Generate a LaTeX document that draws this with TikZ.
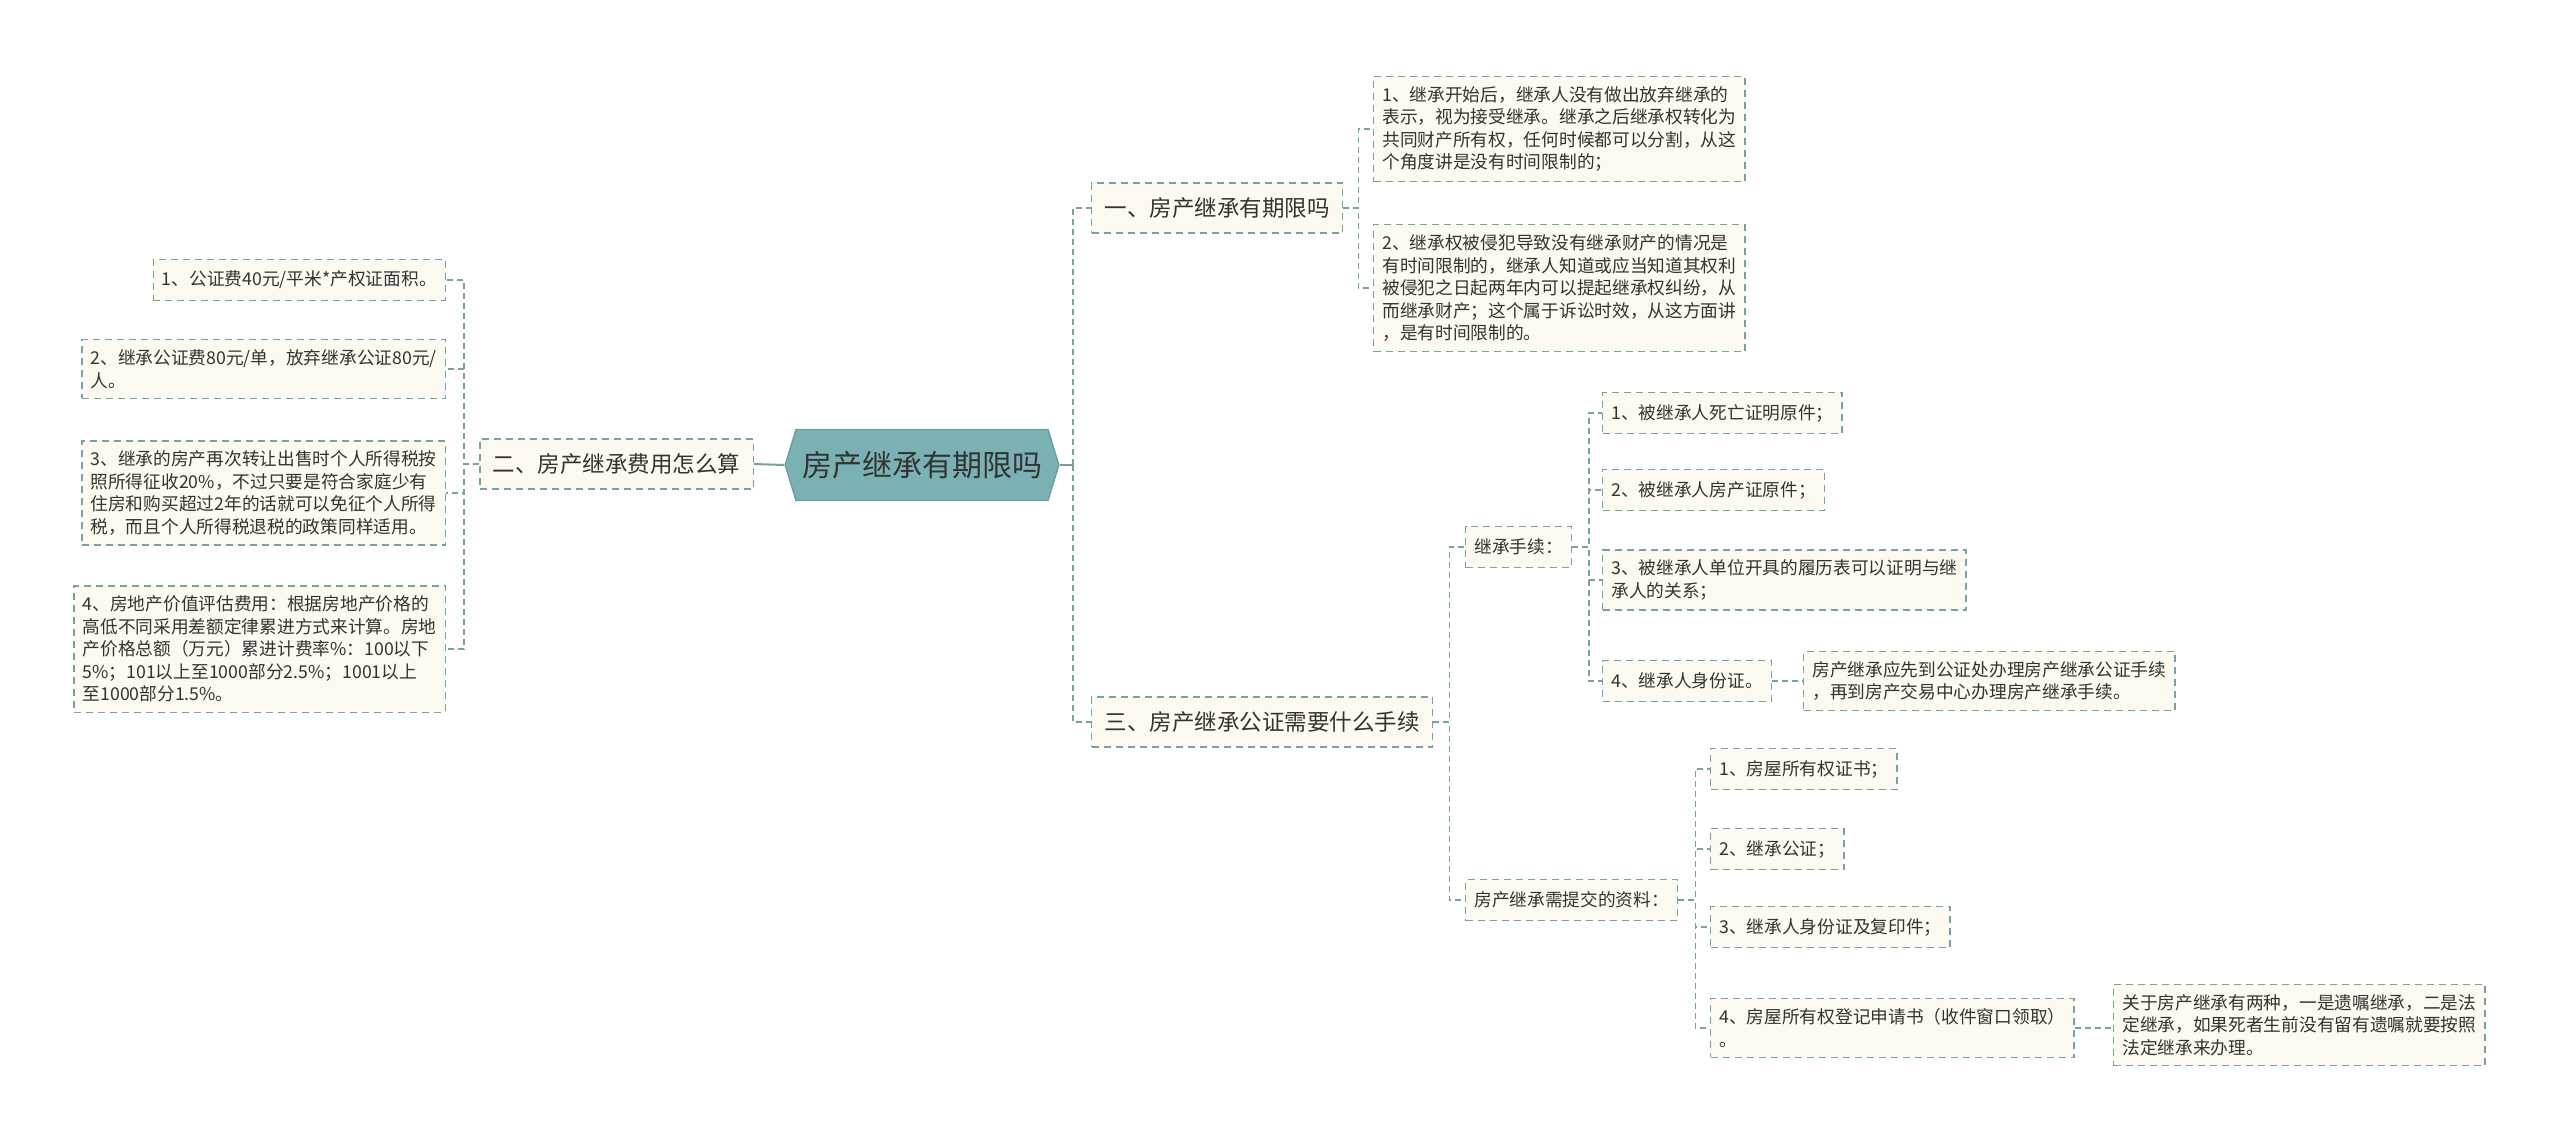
\documentclass[tikz,border=0pt]{standalone}
\usepackage{fontspec}
\newfontfamily\cjk{Noto Sans CJK SC}
\usetikzlibrary{shapes.symbols}
\definecolor{bc}{HTML}{74A3A2}
\definecolor{cream}{HTML}{FCF9F0}
\definecolor{rootfill}{HTML}{7AB2B3}
\definecolor{rootdraw}{HTML}{6A9FA0}
\definecolor{txt}{HTML}{333333}
\begin{document}
\begin{tikzpicture}[x=0.5pt,y=-0.5pt,
 box/.style={draw=bc, line width=0.7pt, dash pattern=on 3.5pt off 2.5pt, fill=cream, text=txt, align=left, inner xsep=4.3pt, inner ysep=5pt},
 leaf/.style={box, font=\cjk\fontsize{8.85}{11.25}\selectfont, minimum height=20.5pt},
 lone/.style={box, font=\cjk\fontsize{11.25}{14}\selectfont, minimum height=25pt, inner xsep=6.5pt},
 root/.style={signal, signal to=east and west, signal pointer angle=146, fill=rootfill, draw=rootdraw, line width=0.7pt, text=txt, font=\cjk\fontsize{15}{18}\selectfont, minimum height=35.5pt, inner xsep=3pt},
 conn/.style={draw=bc, line width=0.75pt, dash pattern=on 3pt off 2pt},
 sconn/.style={draw=bc, line width=1pt},
]
\fill[white] (0,0) rectangle (2560,1146);
\useasboundingbox (0,0) rectangle (2560,1146);

\node[root] (root) at (922,465) {房产继承有期限吗};

% left branch
\node[lone, anchor=east] (L) at (754,464) {二、房产继承费用怎么算};
\node[leaf, anchor=east] (L1) at (446,280) {1、公证费40元/平米*产权证面积。};
\node[leaf, anchor=east] (L2) at (446,369) {2、继承公证费80元/单，放弃继承公证80元/\\人。};
\node[leaf, anchor=east] (L3) at (446,493) {3、继承的房产再次转让出售时个人所得税按\\照所得征收20\%，不过只要是符合家庭少有\\住房和购买超过2年的话就可以免征个人所得\\税，而且个人所得税退税的政策同样适用。};
\node[leaf, anchor=east] (L4) at (446,649) {4、房地产价值评估费用：根据房地产价格的\\高低不同采用差额定律累进方式来计算。房地\\产价格总额（万元）累进计费率\%：100以下\\5\%；101以上至1000部分2.5\%；1001以上\\至1000部分1.5\%。};

% right branch 1
\node[lone, anchor=west] (R1) at (1091,208) {一、房产继承有期限吗};
\node[leaf, anchor=west] (R1a) at (1373,129) {1、继承开始后，继承人没有做出放弃继承的\\表示，视为接受继承。继承之后继承权转化为\\共同财产所有权，任何时候都可以分割，从这\\个角度讲是没有时间限制的；};
\node[leaf, anchor=west] (R1b) at (1373,288) {2、继承权被侵犯导致没有继承财产的情况是\\有时间限制的，继承人知道或应当知道其权利\\被侵犯之日起两年内可以提起继承权纠纷，从\\而继承财产；这个属于诉讼时效，从这方面讲\\，是有时间限制的。};

% right branch 3
\node[lone, anchor=west] (R3) at (1091,722) {三、房产继承公证需要什么手续};
\node[leaf, anchor=west] (S1) at (1465,547) {继承手续：};
\node[leaf, anchor=west] (S1a) at (1602,413) {1、被继承人死亡证明原件；};
\node[leaf, anchor=west] (S1b) at (1602,490) {2、被继承人房产证原件；};
\node[leaf, anchor=west] (S1c) at (1602,580) {3、被继承人单位开具的履历表可以证明与继\\承人的关系；};
\node[leaf, anchor=west] (S1d) at (1602,681) {4、继承人身份证。};
\node[leaf, anchor=west] (S1e) at (1803,681) {房产继承应先到公证处办理房产继承公证手续\\，再到房产交易中心办理房产继承手续。};
\node[leaf, anchor=west] (S2) at (1465,900) {房产继承需提交的资料：};
\node[leaf, anchor=west] (S2a) at (1710,769) {1、房屋所有权证书；};
\node[leaf, anchor=west] (S2b) at (1710,849) {2、继承公证；};
\node[leaf, anchor=west] (S2c) at (1710,927) {3、继承人身份证及复印件；};
\node[leaf, anchor=west] (S2d) at (1710,1028) {4、房屋所有权登记申请书（收件窗口领取）\\。};
\node[leaf, anchor=west] (S2e) at (2113,1025) {关于房产继承有两种，一是遗嘱继承，二是法\\定继承，如果死者生前没有留有遗嘱就要按照\\法定继承来办理。};

% connectors
\draw[sconn] (root.west) -- (L.east);
\foreach \c in {L1,L2,L3,L4} \draw[conn] (L.west) -- ++(-15,0) |- (\c.east);
\coordinate (tj) at (1073,465);
\draw[sconn] (root.east) -- (tj);
\draw[conn, line width=1pt] (tj) |- (R1.west);
\draw[conn, line width=1pt] (tj) |- (R3.west);
\foreach \c in {R1a,R1b} \draw[conn] (R1.east) -- ++(15,0) |- (\c.west);
\foreach \c in {S1,S2} \draw[conn] (R3.east) -- ++(16,0) |- (\c.west);
\foreach \c in {S1a,S1b,S1c,S1d} \draw[conn] (S1.east) -- ++(17,0) |- (\c.west);
\foreach \c in {S2a,S2b,S2c,S2d} \draw[conn] (S2.east) -- ++(17,0) |- (\c.west);
\draw[conn] (S1d.east) -- (S1d.east -| S1e.west);
\draw[conn] (S2d.east) -- (S2d.east -| S2e.west);
\end{tikzpicture}
\end{document}
